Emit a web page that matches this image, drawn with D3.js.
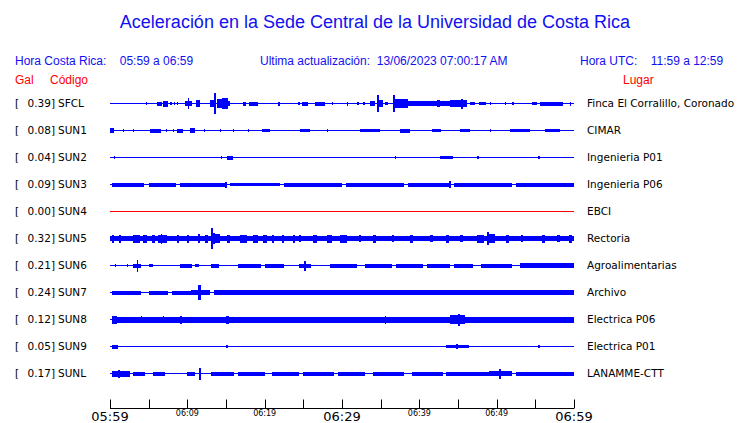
<!DOCTYPE html>
<html><head><meta charset="utf-8">
<script src="https://cdn.jsdelivr.net/npm/d3@7"></script>
<style>body{margin:0;background:#fff}svg{display:block}</style>
</head><body>
<script>
const W = 740, H = 423;
const title = "Aceleración en la Sede Central de la Universidad de Costa Rica";
const localRange = "05:59 a 06:59";
const utcRange = "11:59 a 12:59";
const updated = "13/06/2023 07:00:17 AM";
const stations = ["SFCL","SUN1","SUN2","SUN3","SUN4","SUN5","SUN6","SUN7","SUN8","SUN9","SUNL"];
const peakGal = [0.39,0.08,0.04,0.09,0.00,0.32,0.21,0.24,0.12,0.05,0.17];
const places = ["Finca El Corralillo, Coronado","CIMAR","Ingenieria P01","Ingenieria P06","EBCI","Rectoria","Agroalimentarias","Archivo","Electrica P06","Electrica P01","LANAMME-CTT"];
const tickMinutes = [0,5,10,15,20,25,30,35,40,45,50,55,60];
const tickLabels = {0:"05:59",10:"06:09",20:"06:19",30:"06:29",40:"06:39",50:"06:49",60:"06:59"};
const majorLabels = [0,30,60];

// envelope bursts per station: [startMinute, endMinute, halfAmplitude]
const SFCL = [[4.6,4.7,1],[6.1,6.8,1.5],[6.8,7.4,2.5],[7.8,8.0,1],[8.3,8.4,1],[8.6,8.7,1],[9.7,10.6,2],[10.1,10.2,5],[11.1,11.6,3],[12.9,13.5,3],[13.5,13.8,10],[13.8,14.5,4],[14.5,15.3,5],[15.3,15.5,2],[17.2,17.6,1.5],[18.0,19.1,1.5],[21.7,22.0,1.5],[24.3,24.6,1],[24.8,25.6,1.5],[26.5,27.8,1.5],[28.7,28.8,1],[30.6,30.7,1.5],[31.9,32.1,1],[32.7,33.0,1],[33.6,34.3,2],[34.5,34.8,8],[34.8,35.3,3],[35.6,36.0,1],[36.6,36.8,8],[36.8,38.5,4],[38.5,42.3,2],[42.3,42.7,3],[42.7,44.0,2],[44.0,46.2,3],[45.4,45.6,4.5],[46.6,47.2,1],[47.7,48.6,1],[49.1,49.2,1],[51.1,51.2,1],[52.0,52.3,1],[54.6,55.2,1],[55.6,58.6,1.5],[59.5,59.6,1.5]];
const SUN1 = [[0,0.5,2],[1.7,1.8,1],[3.0,3.1,1],[5.2,6.6,1.5],[7.3,7.4,1],[8.1,8.2,1],[8.7,9.5,1.5],[10.4,11.0,2],[12.2,12.3,1],[14.2,14.3,1],[15.9,16.0,1],[17.9,18.0,1],[19.7,20.7,1],[24.6,25.9,1],[28.1,28.2,1],[32.3,34.9,1],[37.5,38.8,1.5],[41.6,42.7,1],[45.3,46.6,1],[49.1,49.2,1],[51.7,54.3,1],[56.2,58.2,1]];
const SUN2 = [[0.5,0.6,1],[14.4,14.5,1],[15.1,15.9,1.5],[36.9,37.0,1],[42.7,44.4,1],[47.4,47.6,1],[55.4,55.6,1]];
const SUN3 = [[0.3,4.5,1.5],[5.0,8.5,1.5],[9.0,15.0,1.5],[14.9,15.1,2.5],[15.5,22.0,1],[22.5,30.0,1.5],[30.5,38.0,1.5],[38.5,44.0,1.5],[43.9,44.1,3],[44.5,52.0,1.5],[52.5,60,1.5]];
const SUN4 = [];
const SUN5 = [[0,60,2],[0.2,0.4,3.5],[1.2,1.4,3.5],[3.0,3.9,3.5],[4.3,4.8,3.5],[5.4,5.8,3.5],[6.2,7.4,3.5],[6.6,6.7,4.5],[8.6,8.8,3.5],[9.9,10.1,3.5],[11.4,11.6,4],[12.3,12.7,3.5],[13.1,13.3,10],[13.3,13.6,5],[13.6,14.2,4],[15.1,15.5,3.5],[16.8,17.7,3.5],[18.5,19.1,3.5],[19.8,20.3,3.5],[21.0,21.2,3.5],[22.3,22.5,3.5],[23.6,23.8,3.5],[24.5,24.7,3],[26.3,26.8,3.5],[28.1,28.8,3.5],[29.7,30.6,3.5],[32.2,32.5,3],[34.0,34.4,3.5],[36.5,36.8,3],[38.8,39.2,3.5],[41.4,41.8,3],[43.4,43.8,3.5],[45.2,45.6,3],[47.5,48.4,3.5],[48.8,49.0,6],[49.0,49.8,4],[51.2,51.6,3.5],[53.2,53.5,3],[55.8,56.2,3.5],[57.8,58.2,3],[59.3,59.7,3.5]];
const SUN6 = [[0.6,0.7,1],[2.2,2.3,1],[3.0,4.0,1.5],[3.5,3.6,5.5],[5.0,5.5,1],[9.0,10.5,1.5],[11.0,11.5,1],[13.0,14.0,1.5],[16.5,19.5,1.5],[20.0,22.5,1.5],[25.1,25.3,4.5],[24.5,26.0,1.5],[28.5,32.0,1.5],[33.0,36.5,1.5],[37.0,40.5,1.5],[41.0,44.0,1.5],[44.5,47.0,1.5],[48.0,52.0,1.5],[53.0,60,2]];
const SUN7 = [[0.3,4.0,1.5],[5.0,7.5,1.5],[8.0,10.5,1.5],[11.4,11.8,7],[10.5,13.0,2],[13.5,30.0,2],[30.0,60,2]];
const SUN8 = [[0.3,60,2.5],[0.3,1.0,3.5],[4.0,4.1,3],[6.8,6.9,3],[9.0,9.2,3.5],[15.0,15.4,3.5],[35.5,35.6,3.5],[44.0,46.0,4],[45.0,45.2,5.5]];
const SUN9 = [[0.2,1.0,1.5],[15.0,15.2,1],[43.5,46.5,1],[44.8,45.0,2],[55.4,55.6,1]];
const SUNL = [[0.2,2.5,2.5],[1.0,1.2,3.5],[3.0,4.5,1.5],[5.5,7.0,1.5],[10.0,11.0,1.5],[11.5,11.7,5.5],[13.0,16.0,1.5],[16.5,20.0,1.5],[21.0,24.5,1.5],[25.0,29.0,1.5],[29.5,33.0,1.5],[34.0,38.0,1.5],[39.0,43.0,1.5],[43.5,49.0,1.5],[50.3,50.5,4.5],[49.0,52.0,2],[52.5,60,1.5]];
const traces = [SFCL,SUN1,SUN2,SUN3,SUN4,SUN5,SUN6,SUN7,SUN8,SUN9,SUNL];

const blue = "#0000ff", red = "#ff0000";
const svg = d3.select("body").append("svg").attr("width", W).attr("height", H);

// header
svg.append("text").attr("x", 375).attr("y", 28).attr("text-anchor","middle")
  .attr("font-family","Liberation Sans, Arial, sans-serif").attr("font-size", 18).attr("fill", "#1010f0").text(title);
const hdr = svg.append("g").attr("font-family","Liberation Sans, Arial, sans-serif").attr("font-size", 12).attr("fill", "#1010f0");
hdr.append("text").attr("x", 15).attr("y", 65).attr("xml:space","preserve").text("Hora Costa Rica:    " + localRange);
hdr.append("text").attr("x", 260).attr("y", 65).attr("xml:space","preserve").text("Ultima actualización:  " + updated);
hdr.append("text").attr("x", 580).attr("y", 65).attr("xml:space","preserve").text("Hora UTC:    " + utcRange);
const hdr2 = svg.append("g").attr("font-family","Liberation Sans, Arial, sans-serif").attr("font-size", 12).attr("fill", red);
hdr2.append("text").attr("x", 15).attr("y", 84).text("Gal");
hdr2.append("text").attr("x", 50).attr("y", 84).text("Código");
hdr2.append("text").attr("x", 623).attr("y", 84).text("Lugar");

// scales
const x = d3.scaleLinear().domain([0, 60]).range([110, 574]);
const row = d3.scaleBand().domain(stations).range([89.5, 386.5]);
const amp = d3.scaleLinear().domain([0, 10]).range([0, 10]);

const rows = svg.append("g");
stations.forEach((s, i) => {
  const cy = Math.round(row(s) + row.bandwidth() / 2);
  const col = peakGal[i] === 0 ? red : blue;
  const g = rows.append("g");
  const lbl = (xx, t, anchor) => g.append("text").attr("x", xx).attr("y", cy + 4)
    .attr("text-anchor", anchor || "start")
    .attr("font-family","DejaVu Sans, sans-serif").attr("font-size", 10.5).attr("fill","#000").text(t);
  lbl(15, "[");
  lbl(55, peakGal[i].toFixed(2) + "]", "end");
  lbl(58, s);
  lbl(587, places[i]);
  g.append("line").attr("x1", x(0)).attr("x2", x(60)).attr("y1", cy + 0.5).attr("y2", cy + 0.5)
    .attr("stroke", col).attr("stroke-width", 1);
  g.selectAll("rect").data(traces[i]).join("rect")
    .attr("shape-rendering", "crispEdges")
    .attr("x", d => Math.round(x(d[0])))
    .attr("width", d => Math.max(1, Math.round(x(d[1]) - x(d[0]))))
    .attr("y", d => cy - Math.round(amp(d[2]) - 0.01))
    .attr("height", d => Math.round(2 * amp(d[2])) + 1)
    .attr("fill", col);
});

// axis
const axisY = 408.5;
const ax = svg.append("g");
ax.append("line").attr("x1", x(0)).attr("x2", x(60)).attr("y1", axisY).attr("y2", axisY).attr("stroke","#000");
ax.selectAll("line.t").data(tickMinutes).join("line").attr("class","t")
  .attr("x1", d => Math.round(x(d)) + 0.5).attr("x2", d => Math.round(x(d)) + 0.5)
  .attr("y1", axisY - 9).attr("y2", axisY).attr("stroke","#000");
ax.selectAll("text").data(Object.keys(tickLabels).map(Number)).join("text")
  .attr("x", d => x(d)).attr("text-anchor","middle")
  .attr("y", d => majorLabels.includes(d) ? 421 : 416)
  .attr("font-family","DejaVu Sans, sans-serif")
  .attr("font-size", d => majorLabels.includes(d) ? 13 : 8)
  .attr("fill","#000")
  .text(d => tickLabels[d]);
</script>
</body></html>
